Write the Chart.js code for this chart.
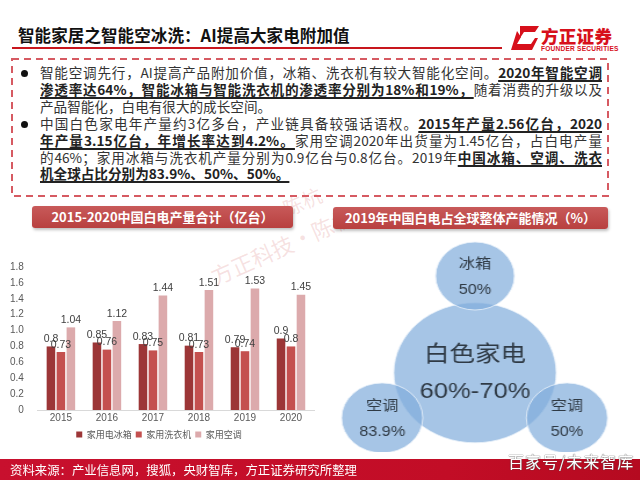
<!DOCTYPE html>
<html>
<head>
<meta charset="utf-8">
<script src="https://cdn.jsdelivr.net/npm/chart.js@4.4.0/dist/chart.umd.min.js"></script>
<style>
  body { margin: 0; width: 640px; height: 480px; position: relative; overflow: hidden; background: #fff;
         font-family: "Noto Sans CJK SC", "Noto Sans", sans-serif; }
  .abs { position: absolute; }
  #title { left: 18px; top: 23px; font-size: 16.5px; font-weight: bold; color: #111; letter-spacing: 0.1px; }
  #title-line { left: 12px; top: 47px; width: 490px; height: 2px; background: #c8161d; }
  #logo-cn { left: 541px; top: 23px; font-size: 17.5px; font-weight: 900; color: #d7101b; letter-spacing: 0.3px; }
  #logo-en { left: 541px; top: 45px; font-size: 6.6px; font-weight: bold; color: #d7101b; font-family: "Liberation Sans", sans-serif; letter-spacing: 0.2px; }
  #bullets { left: 40px; top: 64px; width: 562px; font-size: 13.6px; line-height: 16.9px; color: #333; }
  #bullets div { text-align: justify; text-align-last: justify; text-justify: inter-character; white-space: nowrap; }
  #bullets div.last { text-align-last: left; }
  #bullets b { color: #222; text-decoration: underline; text-underline-offset: 2px; text-decoration-thickness: 1.5px; }
  .dot { width: 7px; height: 7px; border-radius: 50%; background: #111; left: 21px; }
  .banner { height: 22px; border-radius: 3px; color: #fff; font-weight: bold; font-size: 13px; line-height: 22px;
            text-align: center; background: linear-gradient(#c85a5a, #b8403f); box-shadow: 1px 2px 3px rgba(0,0,0,0.25); }
  #footer { left: 0; top: 459px; width: 640px; height: 21px; background: linear-gradient(90deg, #c8102e, #c20d26 70%, #b50a20); }
  #source { left: 10px; top: 461px; font-size: 12.4px; color: #fff; }
  #mark { left: 508px; top: 449px; font-size: 16px; color: #fff; text-shadow: 0 0 1px #555, 0 0 1px #555; letter-spacing: 1px; }
  .wm { font-size: 22px; color: rgba(215,120,120,0.22); transform: rotate(-24deg); transform-origin: left top; white-space: nowrap; }
  #bar-box { left: 0; top: 255px; width: 322px; height: 186px; }
  #bubble-clip { left: 330px; top: 232px; width: 290px; height: 220px; overflow: hidden; }
  #bubble-box { position: absolute; left: 0; top: 0; width: 250px; height: 220px; transform: scaleX(1.16); transform-origin: left top; }
</style>
</head>
<body>
<div class="abs wm" style="left:278px;top:196px;font-size:20px">陈杭</div>
<div class="abs" id="title">智能家居之智能空冰洗：AI提高大家电附加值</div>
<div class="abs" id="title-line"></div>
<svg class="abs" style="left:511px;top:26px" width="28" height="24" viewBox="0 0 28 24">
  <path d="M9 0 H28 L24 6 H13 L9 12 Z" fill="#d7101b"/>
  <path d="M6 5 L10 11 L6 18 H20 L24 12 L27 12 L21 24 H0 Z" fill="#d7101b"/>
</svg>
<div class="abs" id="logo-cn">方正证券</div>
<div class="abs" id="logo-en">FOUNDER SECURITIES</div>

<svg class="abs" style="left:0;top:0" width="640" height="240">
  <rect x="12" y="59" width="596" height="137" fill="none" stroke="#d65a62" stroke-width="2" stroke-dasharray="7 5"/>
</svg>
<div class="abs dot" style="top:70px"></div>
<div class="abs dot" style="top:121px"></div>
<div class="abs" id="bullets">
  <div>智能空调先行，AI提高产品附加价值，冰箱、洗衣机有较大智能化空间。<b>2020年智能空调</b></div>
  <div><b>渗透率达64%，智能冰箱与智能洗衣机的渗透率分别为18%和19%，</b>随着消费的升级以及</div>
  <div class="last">产品智能化，白电有很大的成长空间。</div>
  <div>中国白色家电年产量约3亿多台，产业链具备较强话语权。<b>2015年产量2.56亿台，2020</b></div>
  <div><b>年产量3.15亿台，年增长率达到4.2%。</b>家用空调2020年出货量为1.45亿台，占白电产量</div>
  <div>的46%；家用冰箱与洗衣机产量分别为0.9亿台与0.8亿台。2019年<b>中国冰箱、空调、洗衣</b></div>
  <div class="last"><b>机全球占比分别为83.9%、50%、50%。</b></div>
</div>

<div class="abs wm" style="left:205px;top:262px">方正科技·陈杭</div>
<div class="abs banner" style="left:32px;top:206px;width:261px">2015-2020中国白电产量合计（亿台）</div>
<div class="abs banner" style="left:333px;top:207px;width:275px">2019年中国白电占全球整体产能情况（%）</div>

<div class="abs" id="bar-box"><canvas id="bar-canvas"></canvas></div>
<div class="abs" id="bubble-clip"><div id="bubble-box"><canvas id="bubble-canvas"></canvas></div></div>

<div class="abs" id="footer"></div>
<div class="abs" id="source">资料来源：产业信息网，搜狐，央财智库，方正证券研究所整理</div>
<div class="abs" id="mark">百家号/未来智库</div>

<script>
// production, 100 million units
const years = ["2015", "2016", "2017", "2018", "2019", "2020"];
const fridge = [0.8, 0.85, 0.83, 0.81, 0.79, 0.9];
const washer = [0.73, 0.76, 0.75, 0.73, 0.74, 0.8];
const aircon = [1.04, 1.12, 1.44, 1.51, 1.53, 1.45];
const seriesNames = ["家用电冰箱", "家用洗衣机", "家用空调"];
const yTicks = [0, 0.2, 0.4, 0.6, 0.8, 1, 1.2, 1.4, 1.6, 1.8];

// global share 2019
const bubbleNames = ["白色家电", "冰箱", "空调", "空调"];
const bubbleShares = ["60%-70%", "50%", "83.9%", "50%"];
// diagram layout (not data)
const bubbleX = [50, 50, 18, 81.7];
const bubbleY = [36, 80, 15.5, 15.5];
const bubbleR = [70, 34, 35, 35];

const barLabels = {
    id: "barLabels",
    afterDatasetsDraw(chart) {
        const ctx = chart.ctx;
        ctx.save();
        ctx.font = "10.5px 'Liberation Sans', sans-serif";
        ctx.fillStyle = "#404040";
        ctx.textAlign = "center";
        ctx.textBaseline = "bottom";
        chart.data.datasets.forEach((ds, i) => {
            chart.getDatasetMeta(i).data.forEach((bar, j) => {
                ctx.fillText(String(ds.data[j]), bar.x, bar.y - 2);
            });
        });
        ctx.restore();
    }
};

new Chart(document.getElementById("bar-canvas"), {
    type: "bar",
    data: {
        labels: years,
        datasets: [
            { label: seriesNames[0], data: fridge, backgroundColor: "#9c3637" },
            { label: seriesNames[1], data: washer, backgroundColor: "#c4504f" },
            { label: seriesNames[2], data: aircon, backgroundColor: "#dcaaac" }
        ]
    },
    options: {
        responsive: true,
        maintainAspectRatio: false,
        animation: false,
        datasets: { bar: { categoryPercentage: 0.65, barPercentage: 0.86 } },
        layout: { padding: { left: 4, right: 8, top: 6, bottom: -8 } },
        plugins: {
            legend: {
                position: "bottom",
                labels: { boxWidth: 6, boxHeight: 6, padding: 4, color: "#595959",
                          font: { size: 9, family: "'Noto Sans CJK SC'" } }
            },
            tooltip: { enabled: false }
        },
        scales: {
            x: {
                grid: { display: false, drawTicks: false },
                border: { color: "#d9d9d9" },
                ticks: { color: "#595959", font: { size: 10, family: "'Liberation Sans'" }, padding: 2 }
            },
            y: {
                min: 0, max: 1.8,
                afterBuildTicks(axis) { axis.ticks = yTicks.map(v => ({ value: v })); },
                grid: { display: false },
                border: { display: false },
                ticks: { autoSkip: false, color: "#595959", font: { size: 10, family: "'Liberation Sans'" }, padding: 6 }
            }
        }
    },
    plugins: [barLabels]
});

const bubbleText = {
    id: "bubbleText",
    afterDatasetsDraw(chart) {
        const ctx = chart.ctx;
        ctx.save();
        ctx.fillStyle = "#2f3a45";
        ctx.textAlign = "center";
        ctx.textBaseline = "middle";
        chart.getDatasetMeta(0).data.forEach((pt, i) => {
            const big = i === 0;
            ctx.font = (big ? 22 : 14) + "px 'Noto Sans CJK SC'";
            ctx.fillText(bubbleNames[i], pt.x, pt.y - (big ? 20 : 13));
            ctx.font = (big ? 22 : 14) + "px 'Liberation Sans', sans-serif";
            ctx.fillText(bubbleShares[i], pt.x, pt.y + (big ? 19 : 14));
        });
        ctx.restore();
    }
};

new Chart(document.getElementById("bubble-canvas"), {
    type: "bubble",
    data: {
        datasets: [{
            data: bubbleNames.map((n, i) => ({ x: bubbleX[i], y: bubbleY[i], r: bubbleR[i] })),
            backgroundColor: "rgba(128,172,220,0.7)",
            borderColor: "rgba(235,242,250,0.8)",
            borderWidth: 1,
            clip: false
        }]
    },
    options: {
        responsive: true,
        maintainAspectRatio: false,
        animation: false,
        layout: { padding: 0, autoPadding: false },
        plugins: { legend: { display: false }, tooltip: { enabled: false } },
        scales: {
            x: { display: false, min: 0, max: 100 },
            y: { display: false, min: 0, max: 100 }
        }
    },
    plugins: [bubbleText]
});
</script>
</body>
</html>
